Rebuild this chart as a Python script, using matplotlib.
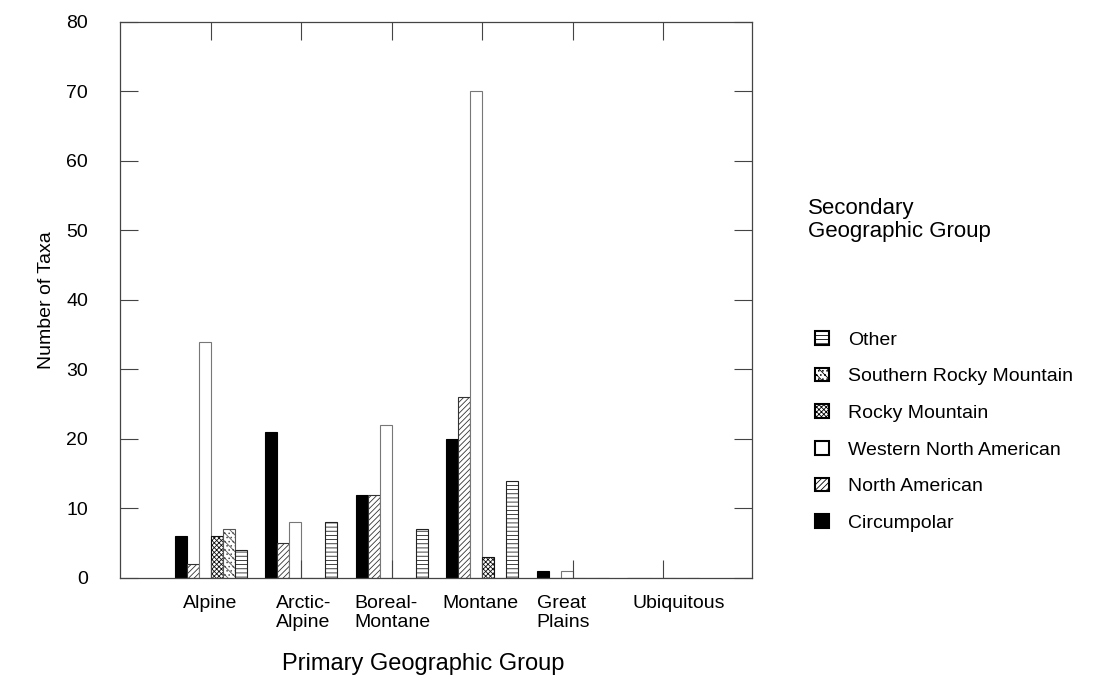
import numpy as np
import matplotlib.pyplot as plt
from matplotlib.patches import Patch

plt.rcParams['font.family'] = ['Liberation Sans', 'DejaVu Sans']
plt.rcParams['hatch.linewidth'] = 0.6

# Dados
groups = ['Alpine', 'Arctic-\nAlpine', 'Boreal-\nMontane', 'Montane', 'Great\nPlains', 'Ubiquitous']
series = ['Circumpolar', 'North American', 'Western North American',
          'Rocky Mountain', 'Southern Rocky Mountain', 'Other']
circumpolar = [6, 21, 12, 20, 1, 0]
north_american = [2, 5, 12, 26, 0, 0]
western_na = [34, 8, 22, 70, 1, 0]
rocky_mountain = [6, 0, 0, 3, 0, 0]
southern_rocky = [7, 0, 0, 0, 0, 0]
other = [4, 8, 7, 14, 0, 0]
values = [circumpolar, north_american, western_na, rocky_mountain, southern_rocky, other]

# estilos de cada série
styles = [
    dict(color='black', edgecolor='black', hatch=None),
    dict(color='white', edgecolor='#333333', hatch='//////'),
    dict(color='white', edgecolor='#777777', hatch=None),
    dict(color='white', edgecolor='#111111', hatch='xxxxxxx'),
    dict(color='white', edgecolor='#555555', hatch='\\\\\\\\....'),
    dict(color='white', edgecolor='#222222', hatch='----'),
]

fig = plt.figure(figsize=(10.96, 6.78), dpi=100)
ax = fig.add_axes([0.1095, 0.1475, 0.5766, 0.8201])

x = np.arange(len(groups))
w = 0.1325
for i, (vals, st) in enumerate(zip(values, styles)):
    ax.bar(x + (i - 2.5) * w, vals, w, color=st['color'], edgecolor=st['edgecolor'],
           hatch=st['hatch'], linewidth=0.8, label=series[i])

ax.set_xlim(-1.005, 5.98)
ax.set_ylim(0, 80)
ax.set_yticks(np.arange(0, 81, 10))

# ticks nos centros dos grupos, rótulos deslocados
ax.set_xticks(x)
ax.set_xticklabels([])
label_pos = [-0.31, 0.72, 1.59, 2.56, 3.60, 4.66]
ax.set_xticks(label_pos, minor=True)
ax.set_xticklabels(groups, minor=True, ha='left', fontsize=14, linespacing=1.2)
ax.tick_params(axis='x', which='minor', length=0, pad=12)
ax.tick_params(axis='both', which='major', direction='in', length=13, width=0.8,
               color='#444444', top=True, right=True, labelsize=14)
ax.tick_params(axis='y', pad=23)

for s in ax.spines.values():
    s.set_color('#444444')
    s.set_linewidth(0.9)

ax.set_ylabel('Number of Taxa', fontsize=14, labelpad=8)
fig.text(423 / 1096, 1 - 664 / 678, 'Primary Geographic Group', fontsize=17,
         ha='center', va='center')

# legenda
fig.text(808 / 1096, 1 - 198 / 678, 'Secondary\nGeographic Group', fontsize=16,
         ha='left', va='top', linespacing=1.15)
handles = [Patch(facecolor=st['color'], edgecolor='black', hatch=st['hatch'], linewidth=1.5)
           for st in styles]
ax.legend(handles[::-1], series[::-1], loc='upper left',
          bbox_to_anchor=(815 / 1096, 1 - 331 / 678), bbox_transform=fig.transFigure,
          frameon=False, fontsize=14, handlelength=0.7, handleheight=0.7,
          handletextpad=1.0, labelspacing=0.98, borderpad=0, borderaxespad=0)

plt.savefig('out.png', dpi=100)
